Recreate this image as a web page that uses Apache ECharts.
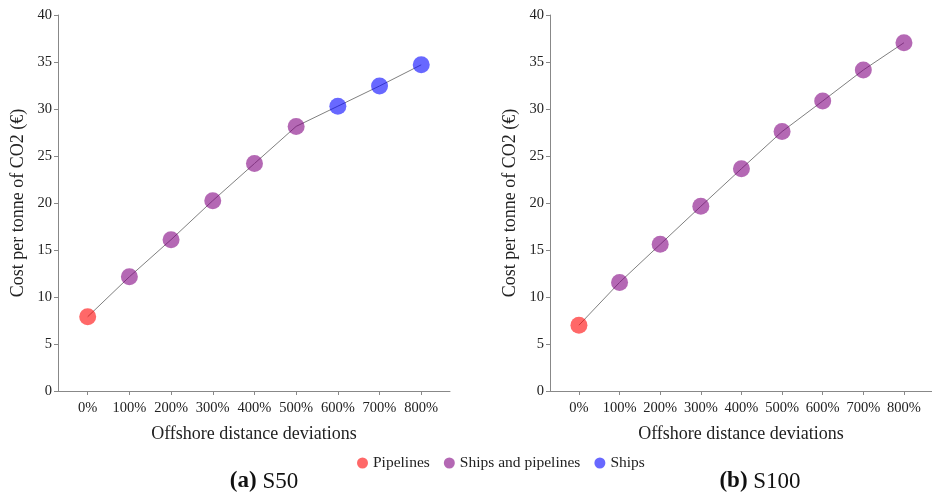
<!DOCTYPE html>
<html>
<head>
<meta charset="utf-8">
<script src="https://cdn.jsdelivr.net/npm/echarts@6/dist/echarts.min.js"></script>
<style>
  html, body { margin: 0; padding: 0; background: #fff; }
  #chart { width: 932px; height: 495px; }
</style>
</head>
<body>
<div id="chart"></div>
<script>
// Offshore distance deviation categories
const deviations = ['0%', '100%', '200%', '300%', '400%', '500%', '600%', '700%', '800%'];

// Cost per tonne of CO2 (€) for each scenario
const costS50 = [7.9, 12.15, 16.1, 20.25, 24.2, 28.15, 30.3, 32.45, 34.7];
const costS100 = [7.0, 11.55, 15.6, 19.65, 23.65, 27.6, 30.85, 34.15, 37.05];

// Transport mode chosen at each deviation
const modeS50 = ['Pipelines', 'Ships and pipelines', 'Ships and pipelines', 'Ships and pipelines',
  'Ships and pipelines', 'Ships and pipelines', 'Ships', 'Ships', 'Ships'];
const modeS100 = ['Pipelines', 'Ships and pipelines', 'Ships and pipelines', 'Ships and pipelines',
  'Ships and pipelines', 'Ships and pipelines', 'Ships and pipelines', 'Ships and pipelines',
  'Ships and pipelines'];

const modes = ['Pipelines', 'Ships and pipelines', 'Ships'];
const modeColors = {
  'Pipelines': 'rgba(255,0,0,0.74)',
  'Ships and pipelines': 'rgba(128,0,128,0.74)',
  'Ships': 'rgba(0,0,255,0.74)'
};

const FONT = '"Liberation Serif", "DejaVu Serif", serif';
const idx = deviations.map((_, i) => i);

function xAxisFor(gridIndex) {
  return {
    type: 'value', gridIndex,
    min: -0.712, max: 8.69,
    name: 'Offshore distance deviations',
    nameLocation: 'middle', nameGap: 34,
    nameTextStyle: { fontFamily: FONT, fontSize: 18, color: '#222' },
    splitLine: { show: false },
    axisLine: { onZero: false, lineStyle: { color: '#888', width: 1 } },
    axisTick: { customValues: idx, length: 4, lineStyle: { color: '#888' } },
    axisLabel: {
      customValues: idx,
      formatter: v => deviations[Math.round(v)],
      fontFamily: FONT, fontSize: 14.5, color: '#222', margin: 10
    }
  };
}

function yAxisFor(gridIndex) {
  return {
    type: 'value', gridIndex,
    min: 0, max: 40, interval: 5,
    name: 'Cost per tonne of CO2 (€)',
    nameLocation: 'middle', nameGap: 31,
    nameTextStyle: { fontFamily: FONT, fontSize: 18, color: '#222' },
    splitLine: { show: false },
    axisLine: { show: true, onZero: false, lineStyle: { color: '#888', width: 1 } },
    axisTick: { show: true, length: 4, lineStyle: { color: '#888' } },
    axisLabel: { fontFamily: FONT, fontSize: 14.5, color: '#222', margin: 6 }
  };
}

function seriesFor(gridIndex, values, modeList) {
  const out = [{
    type: 'line', xAxisIndex: gridIndex, yAxisIndex: gridIndex,
    data: values.map((v, i) => [i, v]),
    showSymbol: false, silent: true, z: 1,
    lineStyle: { color: '#808080', width: 1 }
  }];
  modes.forEach(m => {
    out.push({
      type: 'scatter', name: m, xAxisIndex: gridIndex, yAxisIndex: gridIndex,
      data: values.map((v, i) => [i, v]).filter((_, i) => modeList[i] === m),
      symbolSize: 17, z: 2,
      itemStyle: { color: modeColors[m] }
    });
  });
  return out;
}

const chart = echarts.init(document.getElementById('chart'), null, { renderer: 'canvas' });
chart.setOption({
  animation: false,
  backgroundColor: '#fff',
  grid: [
    { left: 58, top: 15, width: 392, bottom: 104 },
    { left: 550, top: 15, width: 392, bottom: 104 }
  ],
  xAxis: [xAxisFor(0), xAxisFor(1)],
  yAxis: [yAxisFor(0), yAxisFor(1)],
  legend: {
    data: modes.map(m => ({ name: m, itemStyle: { color: modeColors[m] } })),
    left: 352, top: 450,
    icon: 'circle', itemWidth: 11, itemHeight: 11, itemGap: 14,
    textStyle: { fontFamily: FONT, fontSize: 15.5, color: '#222' }
  },
  title: [
    {
      text: '{b|(a)} S50', left: 259, top: 465, textAlign: 'center',
      textStyle: { fontFamily: FONT, fontSize: 23, fontWeight: 'normal', color: '#111',
        rich: { b: { fontFamily: FONT, fontSize: 23, fontWeight: 'bold', color: '#111' } } }
    },
    {
      text: '{b|(b)} S100', left: 755, top: 465, textAlign: 'center',
      textStyle: { fontFamily: FONT, fontSize: 23, fontWeight: 'normal', color: '#111',
        rich: { b: { fontFamily: FONT, fontSize: 23, fontWeight: 'bold', color: '#111' } } }
    }
  ],
  series: [...seriesFor(0, costS50, modeS50), ...seriesFor(1, costS100, modeS100)]
});
</script>
</body>
</html>
